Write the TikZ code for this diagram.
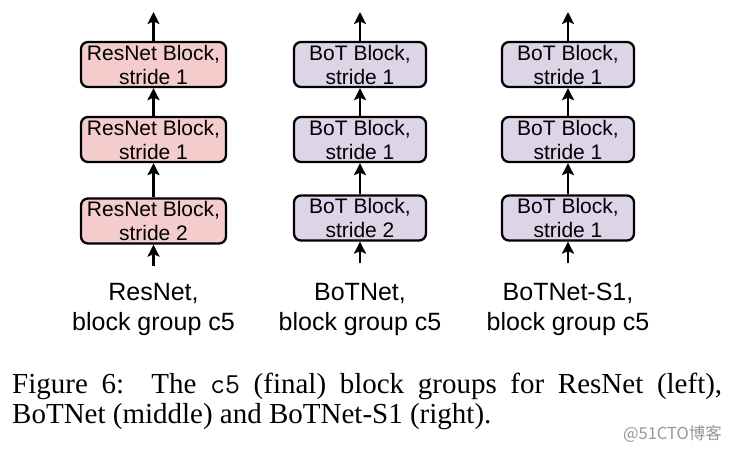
\documentclass[tikz,border=0pt]{standalone}
\usepackage{fontspec}
\setmainfont{Liberation Serif}
\setsansfont{Liberation Sans}
\newfontfamily\cjkfont{Noto Sans CJK SC}
\usepackage{xcolor}
\usepackage{tikz}
\usetikzlibrary{arrows.meta}
\definecolor{resfill}{RGB}{244, 204, 204}
\definecolor{botfill}{RGB}{221, 212, 232}
\definecolor{markgray}{RGB}{150, 150, 150}

\tikzset{
  block/.style={draw=black, line width=2.3pt, rounded corners=7pt, inner sep=0pt,
    minimum height=45pt, align=center, font=\sffamily\fontsize{21}{24}\selectfont},
  flow/.style={line width=2.5pt, -{Stealth[length=12pt, width=12pt, inset=2.5pt]}},
  grouplabel/.style={align=center, inner sep=0pt, font=\sffamily\fontsize{25}{30}\selectfont}
}

\begin{document}
\begin{tikzpicture}[x=1pt, y=-1pt]
\useasboundingbox (0,0) rectangle (731,452);
% Three block groups, stacked bottom to top
\foreach \col/\cx/\bw/\fc/\blk/\sa/\yb/\lab in {
    res/153.5/145/resfill/ResNet/2/221/{ResNet,},
    bot/360/132/botfill/BoT/2/218/{BoTNet,},
    bots/568/132/botfill/BoT/1/218/{BoTNet-S1,}} {
    \node[block, fill=\fc, minimum width=\bw] (\col1) at (\cx,\yb) {\blk{} Block,\\stride \sa};
    \node[block, fill=\fc, minimum width=\bw] (\col2) at (\cx,139.5) {\blk{} Block,\\stride 1};
    \node[block, fill=\fc, minimum width=\bw] (\col3) at (\cx,64.5) {\blk{} Block,\\stride 1};
    \coordinate (\col in) at (\cx,\yb+45);
    \coordinate (\col out) at (\cx,12);
    \draw[flow] (\col in) -- (\col1);
    \draw[flow] (\col1) -- (\col2);
    \draw[flow] (\col2) -- (\col3);
    \draw[flow] (\col3) -- (\col out);
    \node[grouplabel] (\col lab) at (\cx,309) {\lab\\block group c5};
}
% Caption
\node[anchor=base west, inner sep=0pt, text width=710pt, align=justify,
  font=\rmfamily\fontsize{29}{30}\selectfont] (caption) at (12,393)
  {Figure 6:\ \ The \texttt{c5} (final) block groups for ResNet (left),\linebreak
   BoTNet (middle) and BoTNet-S1 (right).};
\node[anchor=base east, inner sep=0pt, text=markgray, font=\cjkfont\fontsize{16.5}{16.5}\selectfont]
  (mark) at (722,439) {@51CTO博客};
\end{tikzpicture}
\end{document}
